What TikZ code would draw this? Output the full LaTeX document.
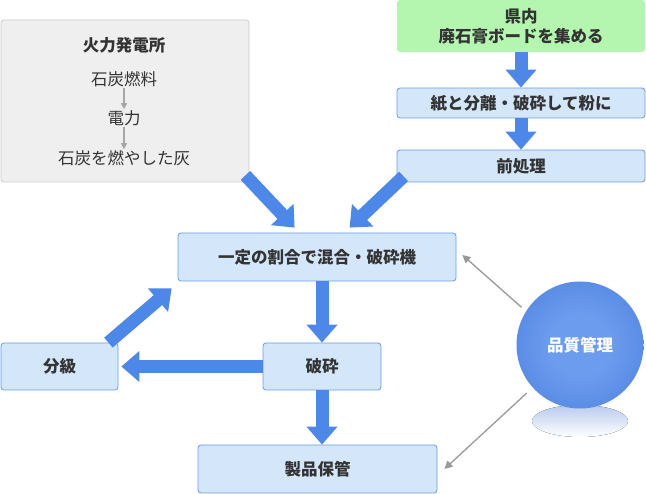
\documentclass[tikz,border=0pt]{standalone}
\usepackage{fontspec}
\setmainfont{Noto Sans CJK JP}
\usepackage{tikz}
\usetikzlibrary{arrows.meta, calc, positioning}
\definecolor{flowblue}{HTML}{4D87E8}
\definecolor{boxfill}{HTML}{D4E6F9}
\definecolor{boxline}{HTML}{6B9BE6}
\definecolor{plantfill}{HTML}{EFEFEF}
\definecolor{plantline}{HTML}{CCCCCC}
\definecolor{greenfill}{HTML}{B4F6B0}
\definecolor{textgray}{HTML}{333333}
\definecolor{ballinner}{HTML}{6C9CEE}
\definecolor{ballmid}{HTML}{4A7EDE}
\definecolor{ballouter}{HTML}{2B5CC2}
\definecolor{shadowblue}{HTML}{B9CAEE}
\pgfdeclareradialshading{qualityball}{\pgfpoint{0bp}{0bp}}{color(0bp)=(ballinner); color(12bp)=(ballinner); color(38bp)=(ballmid); color(50bp)=(ballouter)}
\tikzset{
  stepbox/.style={
    rectangle, rounded corners=3pt, draw=boxline, line width=0.8pt, fill=boxfill,
    text centered, font=\fontsize{16.5}{20}\selectfont\bfseries, text=textgray
  },
  bigarrow/.style={
    -{Triangle[width=30pt,length=18pt]}, line width=13pt, color=flowblue
  },
  thinarrow/.style={
    -{Triangle[width=8pt,length=8pt]}, line width=1.3pt, color=gray!80
  }
}

\begin{document}
\begin{tikzpicture}[
  x=1pt, y=-1pt,
  plantbox/.style={rectangle, rounded corners=3pt, draw=plantline, line width=0.8pt, fill=plantfill, minimum width=248pt, minimum height=162pt},
  plaintext/.style={font=\fontsize{16.5}{20}\selectfont, text=textgray, inner sep=1pt},
  smallarrow/.style={-{Triangle[width=6pt,length=6pt]}, line width=1.4pt, color=gray!70}
]
\useasboundingbox (0,0) rectangle (646,494);

% Kohlekraftwerk
\node[plantbox] (plant) at (125,101) {};
\node[plaintext, font=\fontsize{16.5}{20}\selectfont\bfseries] (planttitle) at (124,45) {火力発電所};
\node[plaintext] (coal) at (124,79) {石炭燃料};
\node[plaintext] (power) at (124,118) {電力};
\node[plaintext] (ash) at (124,158) {石炭を燃やした灰};
\draw[smallarrow] (coal) -- (power);
\draw[smallarrow] (power) -- (ash);

% Sammlung und Vorbehandlung
\node[stepbox, fill=greenfill, draw=none, minimum width=248pt, minimum height=52pt, align=center] (collect) at (521,26) {県内\\廃石膏ボードを集める};
\node[stepbox, minimum width=248pt, minimum height=30pt] (separate) at (521,103) {紙と分離・破砕して粉に};
\node[stepbox, minimum width=248pt, minimum height=32pt] (pretreat) at (521,166) {前処理};

% Hauptlinie
\node[stepbox, minimum width=278pt, minimum height=48pt] (mixer) at (317,257) {一定の割合で混合・破砕機};
\node[stepbox, minimum width=118pt, minimum height=47pt] (crush) at (322,366.5) {破砕};
\node[stepbox, minimum width=117pt, minimum height=47pt] (classify) at (59.5,366.5) {分級};
\node[stepbox, minimum width=239pt, minimum height=48pt] (store) at (317.5,469) {製品保管};

% Qualitaetskontrolle
\fill[top color=shadowblue, bottom color=white] (580,421) ellipse (48pt and 16pt);
\node[circle, minimum size=127pt, inner sep=0pt, shading=qualityball,
  text=white, font=\fontsize{16.5}{20}\selectfont\bfseries] (quality) at (580,345) {品質管理};

\draw[bigarrow] (collect) -- (separate);
\draw[bigarrow] (separate) -- (pretreat);
\draw[bigarrow] ([xshift=-4pt, yshift=7pt]plant.south east) -- ([xshift=117pt, yshift=5pt]mixer.north west);
\draw[bigarrow] ([xshift=7pt, yshift=6pt]pretreat.south west) -- ([xshift=172pt, yshift=5pt]mixer.north west);
\draw[bigarrow] (mixer.south -| crush.north) -- (crush.north);
\draw[bigarrow] (crush.south) -- (crush.south |- store.north);
\draw[bigarrow] (crush.west) -- ([xshift=3pt]classify.east);
\draw[bigarrow] ([xshift=-10pt]classify.north east) -- ([xshift=-6pt, yshift=-7pt]mixer.south west);

\draw[thinarrow, shorten <=6pt] (quality.148) -- ([xshift=6pt, yshift=2pt]mixer.east);
\draw[thinarrow, shorten <=8pt] (quality.222) -- ([xshift=7pt]store.east);
\end{tikzpicture}
\end{document}
